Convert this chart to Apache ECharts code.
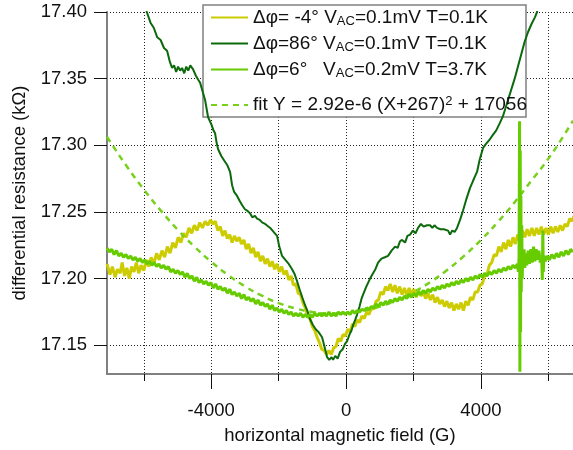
<!DOCTYPE html>
<html>
<head>
<meta charset="utf-8">
<script src="https://cdn.jsdelivr.net/npm/echarts@6/dist/echarts.min.js"></script>
<style>html,body{margin:0;padding:0;background:#fff}#c{width:573px;height:450px}</style>
</head>
<body>
<div id="c"></div>
<script>
// ---- data (x: field in G, y: resistance in kΩ) ----
const xRange = [-7090, 6730];
const yRange = [17.1284, 17.40];
const xMajorTicks = [-4000, 0, 4000];
const xMinorTicks = [-6000, -2000, 2000, 6000];
const yTicks = [17.15, 17.20, 17.25, 17.30, 17.35, 17.40];

const seriesNames = [
  'Δφ= -4° VAC=0.1mV T=0.1K',
  'Δφ=86° VAC=0.1mV T=0.1K',
  'Δφ=6°   VAC=0.2mV T=3.7K',
  'fit Y = 2.92e-6 (X+267)^2 + 17056'
];

const yellowX = [-7090,-7000,-6930,-6850,-6780,-6700,-6640,-6570,-6500,-6430,-6360,-6290,-6220,-6150,-6080,-6000,-5920,-5850,-5780,-5700,-5620,-5540,-5460,-5380,-5300,-5220,-5140,-5060,-4980,-4900,-4820,-4740,-4660,-4580,-4500,-4420,-4340,-4260,-4180,-4100,-4020,-3950,-3880,-3800,-3730,-3660,-3590,-3520,-3450,-3380,-3310,-3240,-3170,-3100,-3030,-2960,-2890,-2820,-2750,-2680,-2610,-2540,-2470,-2400,-2330,-2260,-2190,-2120,-2050,-1980,-1910,-1840,-1770,-1700,-1630,-1560,-1490,-1420,-1350,-1280,-1210,-1140,-1070,-1000,-930,-860,-790,-720,-650,-580,-510,-440,-370,-300,-230,-160,-90,-20,50,120,190,260,330,400,470,540,610,680,750,820,890,960,1030,1100,1170,1240,1310,1380,1450,1520,1590,1660,1730,1800,1870,1940,2010,2080,2150,2220,2290,2360,2430,2500,2570,2640,2710,2780,2850,2920,2990,3060,3130,3200,3270,3340,3410,3480,3550,3620,3690,3760,3830,3900,3970,4040,4110,4180,4250,4320,4390,4460,4530,4600,4670,4740,4810,4880,4950,5020,5090,5160,5230,5300,5370,5440,5510,5580,5650,5720,5790,5860,5930,6000,6070,6140,6210,6280,6350,6420,6490,6560,6630,6700,6760];
const yellowY = [17.211,17.203,17.209,17.201,17.207,17.204,17.212,17.202,17.208,17.200,17.209,17.205,17.212,17.204,17.210,17.206,17.214,17.209,17.216,17.211,17.219,17.214,17.221,17.216,17.224,17.219,17.227,17.223,17.231,17.227,17.234,17.231,17.238,17.234,17.240,17.236,17.242,17.238,17.243,17.240,17.244,17.241,17.243,17.236,17.239,17.232,17.236,17.230,17.233,17.227,17.232,17.228,17.231,17.226,17.229,17.222,17.226,17.219,17.223,17.216,17.220,17.213,17.217,17.211,17.215,17.209,17.213,17.207,17.211,17.205,17.209,17.203,17.206,17.199,17.202,17.195,17.196,17.189,17.188,17.182,17.178,17.172,17.170,17.164,17.161,17.156,17.152,17.147,17.146,17.143,17.146,17.143,17.148,17.149,17.155,17.153,17.158,17.157,17.162,17.160,17.166,17.164,17.169,17.167,17.172,17.170,17.175,17.173,17.178,17.177,17.183,17.184,17.190,17.188,17.194,17.191,17.196,17.190,17.195,17.189,17.194,17.188,17.193,17.187,17.193,17.188,17.192,17.186,17.191,17.187,17.190,17.185,17.189,17.184,17.188,17.182,17.186,17.181,17.184,17.179,17.183,17.178,17.182,17.176,17.181,17.177,17.182,17.176,17.183,17.180,17.186,17.184,17.190,17.190,17.195,17.196,17.202,17.203,17.210,17.212,17.218,17.217,17.224,17.220,17.227,17.222,17.229,17.224,17.231,17.226,17.233,17.229,17.236,17.231,17.237,17.232,17.238,17.232,17.238,17.233,17.239,17.233,17.238,17.233,17.239,17.234,17.239,17.235,17.240,17.236,17.241,17.239,17.245,17.243,17.247];

const darkX = [-6200,-5910,-5800,-5700,-5600,-5500,-5400,-5308,-5230,-5160,-5100,-5040,-4980,-4920,-4863,-4800,-4740,-4680,-4620,-4537,-4450,-4380,-4329,-4250,-4181,-4092,-4000,-3930,-3884,-3840,-3795,-3700,-3600,-3520,-3440,-3380,-3320,-3232,-3150,-3080,-3000,-2936,-2850,-2780,-2700,-2639,-2560,-2480,-2400,-2343,-2250,-2150,-2046,-1980,-1898,-1800,-1700,-1601,-1520,-1453,-1380,-1300,-1216,-1150,-1080,-979,-900,-820,-712,-650,-600,-563,-500,-430,-385,-320,-250,-178,-100,-30,30,100,160,208,270,326,400,460,504,600,712,800,870,949,1050,1150,1245,1350,1453,1530,1600,1661,1750,1820,1898,1980,2060,2135,2220,2300,2400,2491,2560,2620,2698,2800,2900,3025,3084,3150,3220,3291,3380,3469,3560,3677,3760,3830,3884,3960,4062,4150,4250,4359,4450,4566,4655,5000,5300,5397,5500,5600,5664,5800];
const darkY = [17.430,17.400,17.392,17.388,17.381,17.379,17.373,17.371,17.363,17.358,17.360,17.355,17.359,17.356,17.358,17.354,17.359,17.356,17.360,17.357,17.352,17.349,17.347,17.340,17.334,17.321,17.316,17.311,17.309,17.302,17.297,17.292,17.288,17.285,17.280,17.270,17.265,17.262,17.258,17.255,17.252,17.251,17.249,17.246,17.247,17.245,17.244,17.242,17.241,17.240,17.238,17.235,17.232,17.224,17.217,17.214,17.211,17.207,17.203,17.198,17.192,17.186,17.180,17.176,17.170,17.165,17.162,17.160,17.156,17.150,17.145,17.141,17.139,17.141,17.139,17.142,17.140,17.145,17.147,17.151,17.153,17.158,17.161,17.165,17.169,17.173,17.179,17.185,17.188,17.194,17.200,17.204,17.207,17.212,17.215,17.216,17.217,17.221,17.224,17.223,17.228,17.229,17.227,17.232,17.233,17.236,17.234,17.238,17.241,17.239,17.240,17.240,17.238,17.240,17.238,17.237,17.237,17.236,17.233,17.236,17.235,17.238,17.244,17.251,17.259,17.268,17.273,17.277,17.280,17.289,17.298,17.301,17.304,17.308,17.311,17.317,17.322,17.350,17.378,17.385,17.391,17.396,17.400,17.425];

const lightX = [-7090,-7020,-6950,-6880,-6810,-6740,-6670,-6600,-6530,-6460,-6390,-6320,-6250,-6180,-6110,-6040,-5970,-5900,-5830,-5760,-5690,-5620,-5550,-5480,-5410,-5340,-5270,-5200,-5130,-5060,-4990,-4920,-4850,-4780,-4710,-4640,-4570,-4500,-4430,-4360,-4290,-4220,-4150,-4080,-4010,-3940,-3870,-3800,-3730,-3660,-3590,-3520,-3450,-3380,-3310,-3240,-3170,-3100,-3030,-2960,-2890,-2820,-2750,-2680,-2610,-2540,-2470,-2400,-2330,-2260,-2190,-2120,-2050,-1980,-1910,-1840,-1770,-1700,-1630,-1560,-1490,-1420,-1350,-1280,-1210,-1140,-1070,-1000,-930,-860,-790,-720,-650,-580,-510,-440,-370,-300,-230,-160,-90,-20,50,120,190,260,330,400,470,540,610,680,750,820,890,960,1030,1100,1170,1240,1310,1380,1450,1520,1590,1660,1730,1800,1870,1940,2010,2080,2150,2220,2290,2360,2430,2500,2570,2640,2710,2780,2850,2920,2990,3060,3130,3200,3270,3340,3410,3480,3550,3620,3690,3760,3830,3900,3970,4040,4110,4180,4250,4320,4390,4460,4530,4600,4670,4740,4810,4880,4950,5020,5080,5110,5130,5145,5155,5165,5175,5185,5195,5210,5225,5240,5260,5280,5300,5330,5360,5400,5440,5480,5520,5560,5600,5640,5680,5720,5760,5800,5820,5835,5850,5870,5910,5960,6030,6100,6170,6240,6310,6380,6450,6520,6590,6660,6730];
const lightY = [17.223,17.220,17.222,17.218,17.221,17.217,17.219,17.216,17.218,17.215,17.217,17.214,17.216,17.213,17.215,17.212,17.214,17.211,17.213,17.210,17.212,17.209,17.211,17.208,17.210,17.207,17.209,17.205,17.207,17.204,17.206,17.203,17.205,17.201,17.204,17.200,17.202,17.198,17.201,17.197,17.199,17.196,17.198,17.195,17.197,17.193,17.196,17.192,17.194,17.191,17.193,17.189,17.192,17.188,17.190,17.187,17.189,17.185,17.188,17.184,17.186,17.183,17.185,17.181,17.184,17.180,17.182,17.179,17.181,17.177,17.180,17.176,17.178,17.175,17.177,17.174,17.176,17.173,17.175,17.172,17.174,17.172,17.174,17.171,17.173,17.171,17.173,17.171,17.174,17.172,17.174,17.172,17.174,17.172,17.175,17.172,17.174,17.172,17.175,17.173,17.175,17.173,17.175,17.173,17.176,17.174,17.176,17.175,17.177,17.176,17.178,17.177,17.179,17.178,17.181,17.179,17.182,17.180,17.183,17.181,17.184,17.182,17.185,17.183,17.186,17.184,17.187,17.185,17.188,17.186,17.189,17.187,17.190,17.188,17.191,17.189,17.192,17.190,17.193,17.191,17.194,17.192,17.195,17.193,17.196,17.194,17.197,17.195,17.198,17.196,17.199,17.197,17.200,17.198,17.201,17.199,17.202,17.200,17.203,17.201,17.204,17.202,17.205,17.203,17.206,17.204,17.207,17.205,17.208,17.206,17.209,17.207,17.210,17.208,17.211,17.205,17.216,17.318,17.130,17.296,17.160,17.262,17.190,17.240,17.200,17.218,17.209,17.222,17.208,17.219,17.210,17.221,17.211,17.222,17.212,17.224,17.213,17.222,17.214,17.221,17.212,17.216,17.199,17.236,17.205,17.217,17.213,17.217,17.214,17.218,17.215,17.219,17.216,17.220,17.217,17.221,17.218,17.222,17.220];

const fitX = [-7090,-7000,-6500,-6000,-5500,-5000,-4500,-4000,-3500,-3000,-2500,-2000,-1500,-1000,-500,0,500,1000,1500,2000,2500,3000,3500,4000,4500,5000,5500,6000,6500,6730];
const fitY = [17.3064,17.3028,17.2841,17.2669,17.2512,17.2368,17.2240,17.2126,17.2027,17.1942,17.1872,17.1816,17.1776,17.1749,17.1738,17.1741,17.1758,17.1790,17.1837,17.1898,17.1974,17.2065,17.2170,17.2290,17.2424,17.2573,17.2736,17.2900,17.3090,17.3185];

// ---- chart ----
const pair = (xs, ys) => xs.map((x, i) => [x, ys[i]]);
const FONT = '"Liberation Sans", Arial, sans-serif';
const richLegend = {
  a: { fontSize: 19, lineHeight: 20, color: '#111', fontFamily: FONT },
  s: { fontSize: 13, lineHeight: 10, verticalAlign: 'bottom', color: '#111', fontFamily: FONT },
  p: { fontSize: 13, lineHeight: 8, verticalAlign: 'top', color: '#111', fontFamily: FONT }
};
const legendText = {};
legendText[seriesNames[0]] = '{a|Δφ= -4° V}{s|AC}{a|=0.1mV T=0.1K}';
legendText[seriesNames[1]] = '{a|Δφ=86° V}{s|AC}{a|=0.1mV T=0.1K}';
legendText[seriesNames[2]] = '{a|Δφ=6°   V}{s|AC}{a|=0.2mV T=3.7K}';
legendText[seriesNames[3]] = '{a|fit Y = 2.92e-6 (X+267)}{p|2}{a| + 17056}';

const gridLine = { show: true, lineStyle: { color: '#222', width: 1, type: [1, 2] } };
const legendBase = {
  orient: 'vertical', left: 210, padding: 0, itemWidth: 37, itemHeight: 14, z: 5,
  itemStyle: { opacity: 0 },
  formatter: n => legendText[n], textStyle: { rich: richLegend }
};

const chart = echarts.init(document.getElementById('c'), null, { renderer: 'canvas' });
chart.setOption({
  animation: false,
  backgroundColor: '#fff',
  grid: { left: 107, top: 12, right: 0, bottom: 73, containLabel: false },
  xAxis: [{
    type: 'value', min: xRange[0], max: xRange[1], position: 'bottom',
    name: 'horizontal magnetic field (G)', nameLocation: 'middle', nameGap: 52,
    nameTextStyle: { fontSize: 18.5, color: '#111', fontFamily: FONT },
    axisLine: { show: true, onZero: false, lineStyle: { color: '#808080', width: 2 } },
    axisTick: { show: true, inside: false, length: 15, customValues: xMajorTicks, lineStyle: { color: '#111', width: 1 } },
    axisLabel: { show: true, margin: 27, fontSize: 18.5, color: '#111', fontFamily: FONT, customValues: xMajorTicks,
      formatter: v => String(v) },
    splitLine: gridLine
  }, {
    type: 'value', min: xRange[0], max: xRange[1], position: 'bottom', offset: 0,
    axisLine: { show: false },
    axisTick: { show: true, inside: false, length: 7, customValues: xMinorTicks, lineStyle: { color: '#111', width: 1 } },
    axisLabel: { show: false, customValues: xMinorTicks },
    splitLine: gridLine
  }],
  yAxis: {
    type: 'value', min: yRange[0], max: yRange[1],
    name: 'differential resistance (kΩ)', nameLocation: 'middle', nameGap: 76, nameRotate: 90,
    nameTextStyle: { fontSize: 18.5, color: '#111', fontFamily: FONT },
    axisLine: { show: true, onZero: false, lineStyle: { color: '#808080', width: 2 } },
    axisTick: { show: true, inside: false, length: 13, customValues: yTicks, lineStyle: { color: '#111', width: 1 } },
    axisLabel: { show: true, margin: 20, fontSize: 18.5, color: '#111', fontFamily: FONT, customValues: yTicks,
      formatter: v => v.toFixed(2) },
    splitLine: gridLine
  },
  graphic: [{
    type: 'rect', z: 3, zlevel: 0,
    shape: { x: 203, y: 5, width: 323, height: 112 },
    style: { fill: '#fff', stroke: '#808080', lineWidth: 1.5 }
  }],
  legend: [
    Object.assign({}, legendBase, { data: seriesNames.slice(0, 3), top: 8, itemGap: 6.5 }),
    Object.assign({}, legendBase, { data: [seriesNames[3]], top: 95 })
  ],
  series: [{
    name: seriesNames[0], type: 'line', data: pair(yellowX, yellowY), symbol: 'none',
    lineStyle: { color: '#cccc00', width: 3 }, itemStyle: { color: '#cccc00' }
  }, {
    name: seriesNames[1], type: 'line', data: pair(darkX, darkY), symbol: 'none',
    lineStyle: { color: '#0c6a0c', width: 2 }, itemStyle: { color: '#0c6a0c' }
  }, {
    name: seriesNames[3], type: 'line', data: pair(fitX, fitY), symbol: 'none', smooth: true,
    lineStyle: { color: '#77d11c', width: 2.5, type: [6, 5] }, itemStyle: { color: '#77d11c' }
  }, {
    name: seriesNames[2], type: 'line', data: pair(lightX, lightY), symbol: 'none',
    lineStyle: { color: '#66cc00', width: 3 }, itemStyle: { color: '#66cc00' }
  }]
});
</script>
</body>
</html>
